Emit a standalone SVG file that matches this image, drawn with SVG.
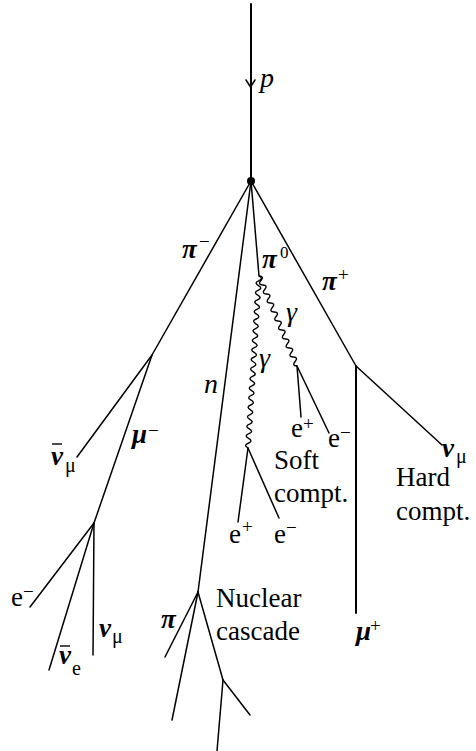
<svg xmlns="http://www.w3.org/2000/svg" width="476" height="751" viewBox="0 0 476 751">
<style>
.ln{stroke:#000;stroke-width:1.5;fill:none;stroke-linecap:round;stroke-linejoin:round}
.thick{stroke-width:2}
.wv{stroke:#000;stroke-width:1.4;fill:none}
text{font-family:"Liberation Serif","Times New Roman",serif;fill:#000}
.r{font-size:27px}
.i{font-size:28px;font-style:italic}
.g{font-size:27px;font-style:italic;font-weight:bold}
.gl{font-size:28px;font-style:italic}
.s{font-size:19px}
.sub{font-size:20px}
.bar{stroke:#000;stroke-width:1.4}
</style>
<rect width="476" height="751" fill="#fff"/>
<g id="connectors">
<line class="ln thick" x1="251" y1="4" x2="251" y2="181"/>
<polyline class="ln" points="246,80 250.5,87 255,80"/>
<polyline class="ln" points="251,181 152,355 77,457"/>
<line class="ln" x1="152" y1="355" x2="94" y2="523"/>
<line class="ln" x1="94" y1="523" x2="30" y2="607"/>
<line class="ln" x1="94" y1="523" x2="49" y2="670"/>
<line class="ln" x1="94" y1="523" x2="93" y2="655"/>
<line class="ln" x1="251" y1="181" x2="198" y2="592"/>
<line class="ln" x1="198" y1="592" x2="165" y2="657"/>
<line class="ln" x1="198" y1="592" x2="172" y2="720"/>
<line class="ln" x1="198" y1="592" x2="223" y2="680"/>
<line class="ln" x1="223" y1="680" x2="250" y2="715"/>
<line class="ln" x1="223" y1="680" x2="217" y2="751"/>
<line class="ln" x1="251" y1="181" x2="259" y2="276"/>
<path class="wv" d="M259 276 q4.84 2.7 -0.306 4.778 t-0.306 4.778 t-0.306 4.778 t-0.306 4.778 t-0.306 4.778 t-0.306 4.778 t-0.306 4.778 t-0.306 4.778 t-0.306 4.778 t-0.306 4.778 t-0.306 4.778 t-0.306 4.778 t-0.306 4.778 t-0.306 4.778 t-0.306 4.778 t-0.306 4.778 t-0.306 4.778 t-0.306 4.778 t-0.306 4.778 t-0.306 4.778 t-0.306 4.778 t-0.306 4.778 t-0.306 4.778 t-0.306 4.778 t-0.306 4.778 t-0.306 4.778 t-0.306 4.778 t-0.306 4.778 t-0.306 4.778 t-0.306 4.778 t-0.306 4.778 t-0.306 4.778 t-0.306 4.778 t-0.306 4.778 t-0.306 4.778 t-0.306 4.778"/>
<path class="wv" d="M259 276 q5.55 0.3 1.9 4.5 t1.9 4.5 t1.9 4.5 t1.9 4.5 t1.9 4.5 t1.9 4.5 t1.9 4.5 t1.9 4.5 t1.9 4.5 t1.9 4.5 t1.9 4.5 t1.9 4.5 t1.9 4.5 t1.9 4.5 t1.9 4.5 t1.9 4.5 t1.9 4.5 t1.9 4.5 t1.9 4.5 t1.9 4.5"/>
<line class="ln" x1="297" y1="366" x2="301" y2="417"/>
<line class="ln" x1="297" y1="366" x2="329" y2="433"/>
<line class="ln" x1="248" y1="448" x2="238" y2="522"/>
<line class="ln" x1="248" y1="448" x2="279" y2="518"/>
<polyline class="ln" points="251,181 356,366 442,445"/>
<line class="ln thick" x1="356" y1="366" x2="356" y2="613"/>
</g>
<g id="vertex"><circle cx="251" cy="181" r="4" fill="#000"/></g>
<g id="label-p"><text class="i" x="260" y="87">p</text></g>
<g id="label-piminus"><text class="g" x="182" y="258">π</text><text class="s" x="199" y="248">−</text></g>
<g id="label-pi0"><text class="g" x="262" y="268">π</text><text class="s" x="280" y="258" style="font-size:17px">0</text></g>
<g id="label-piplus"><text class="g" x="322" y="290">π</text><text class="s" x="338" y="281">+</text></g>
<g id="label-gamma1"><text class="gl" x="286" y="321">γ</text></g>
<g id="label-gamma2"><text class="gl" x="259" y="367">γ</text></g>
<g id="label-n"><text class="i" x="204" y="393">n</text></g>
<g id="label-nubar-mu"><line class="bar" x1="52" y1="444" x2="62" y2="444"/><text class="g" x="51" y="465">ν</text><text class="sub" x="65" y="472">μ</text></g>
<g id="label-muminus"><text class="g" x="132" y="443">μ</text><text class="s" x="148" y="437">−</text></g>
<g id="label-eminus-left"><text class="r" x="11" y="606">e</text><text class="s" x="23" y="598">−</text></g>
<g id="label-nubar-e"><line class="bar" x1="60" y1="646" x2="70" y2="646"/><text class="g" x="59" y="664">ν</text><text class="sub" x="72" y="675">e</text></g>
<g id="label-nu-mu-left"><text class="g" x="99" y="637">ν</text><text class="sub" x="112" y="643">μ</text></g>
<g id="label-pi-nuclear"><text class="g" x="161" y="628">π</text></g>
<g id="label-nuclear"><text class="r" x="216" y="607">Nuclear</text><text class="r" x="216" y="640">cascade</text></g>
<g id="label-eplus-upper"><text class="r" x="291" y="437">e</text><text class="s" x="303" y="430">+</text></g>
<g id="label-eminus-upper"><text class="r" x="328" y="447">e</text><text class="s" x="340" y="439">−</text></g>
<g id="label-soft"><text class="r" x="274" y="469">Soft</text><text class="r" x="274" y="502">compt.</text></g>
<g id="label-eplus-lower"><text class="r" x="229" y="543">e</text><text class="s" x="242" y="533">+</text></g>
<g id="label-eminus-lower"><text class="r" x="274" y="543">e</text><text class="s" x="286" y="534">−</text></g>
<g id="label-hard"><text class="r" x="396" y="486">Hard</text><text class="r" x="396" y="520">compt.</text></g>
<g id="label-nu-mu-right"><text class="g" x="442" y="457">ν</text><text class="sub" x="456" y="463">μ</text></g>
<g id="label-muplus"><text class="g" x="356" y="640">μ</text><text class="s" x="370" y="632">+</text></g>
</svg>
